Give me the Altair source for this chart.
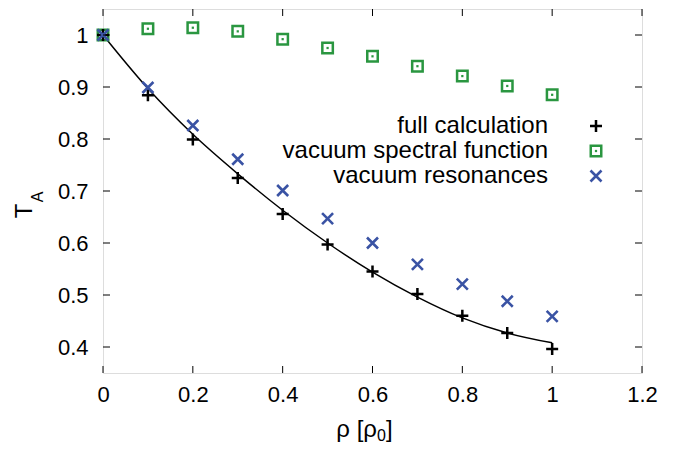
import altair as alt
import pandas as pd

# ---- data ----
rho = [0.0, 0.1, 0.2, 0.3, 0.4, 0.5, 0.6, 0.7, 0.8, 0.9, 1.0]
full_calc = [1.000, 0.884, 0.799, 0.725, 0.656, 0.597, 0.545, 0.502, 0.460, 0.427, 0.396]
full_line = [1.000, 0.897, 0.809, 0.733, 0.663, 0.600, 0.544, 0.496, 0.456, 0.427, 0.408]
vac_spec = [1.000, 1.012, 1.014, 1.007, 0.992, 0.975, 0.959, 0.940, 0.921, 0.902, 0.885]
vac_res = [1.000, 0.899, 0.826, 0.761, 0.701, 0.647, 0.600, 0.559, 0.521, 0.488, 0.459]
x_ticks = [0, 0.2, 0.4, 0.6, 0.8, 1.0, 1.2]
y_ticks = [0.4, 0.5, 0.6, 0.7, 0.8, 0.9, 1.0]
legend_labels = ["full calculation", "vacuum spectral function", "vacuum resonances"]

W, H = 539, 364
FONT = "Liberation Sans"
BLACK = "#000000"
GREEN = "#2a9640"
BLUE = "#3a53a4"
PLUS = "M-1,0H1M0,-1V1"
CROSS = "M-1,-1L1,1M-1,1L1,-1"

xs = alt.Scale(domain=[0, 1.2], nice=False, zero=False)
ys = alt.Scale(domain=[0.35, 1.05], nice=False, zero=False)

x_axis = alt.Axis(values=x_ticks, format="~g", title=None, domain=False, ticks=False,
                  tickSize=0, grid=False, labelFont=FONT, labelFontSize=22,
                  labelColor="#000", labelPadding=11, labelFlush=False)
y_axis = alt.Axis(values=y_ticks, format="~g", title=None, domain=False, ticks=False,
                  tickSize=0, grid=False, labelFont=FONT, labelFontSize=22,
                  labelColor="#000", labelPadding=15, labelFlush=False)

X = alt.X("rho:Q", scale=xs, axis=x_axis)
Y = alt.Y("T:Q", scale=ys, axis=y_axis)

df_line = pd.DataFrame({"rho": rho, "T": full_line})
df_full = pd.DataFrame({"rho": rho, "T": full_calc})
df_spec = pd.DataFrame({"rho": rho, "T": vac_spec})
df_res = pd.DataFrame({"rho": rho, "T": vac_res})
df_xt = pd.DataFrame({"rho": x_ticks})
df_yt = pd.DataFrame({"T": y_ticks})

line = alt.Chart(df_line).mark_line(color=BLACK, strokeWidth=1.5,
                                    interpolate="monotone").encode(x=X, y=Y)
spec = alt.Chart(df_spec).mark_point(shape="square", filled=False, color=GREEN,
                                     strokeWidth=2.5, size=110, opacity=1).encode(x=X, y=Y)
spec_dot = alt.Chart(df_spec).mark_square(color=GREEN, size=5, opacity=1).encode(x=X, y=Y)
full = alt.Chart(df_full).mark_point(shape=PLUS, filled=False, color=BLACK,
                                     strokeWidth=2.5, size=144, opacity=1).encode(x=X, y=Y)
res = alt.Chart(df_res).mark_point(shape=CROSS, filled=False, color=BLUE,
                                   strokeWidth=2.6, size=121, opacity=1).encode(x=X, y=Y)

# inward ticks on all four sides
TL = 7
xt_bot = alt.Chart(df_xt).mark_rule(color=BLACK, strokeWidth=1).encode(
    x=X, y=alt.value(H), y2=alt.value(H - TL))
xt_top = alt.Chart(df_xt).mark_rule(color=BLACK, strokeWidth=1).encode(
    x=X, y=alt.value(0), y2=alt.value(TL))
yt_left = alt.Chart(df_yt).mark_rule(color=BLACK, strokeWidth=1).encode(
    y=Y, x=alt.value(0), x2=alt.value(TL))
yt_right = alt.Chart(df_yt).mark_rule(color=BLACK, strokeWidth=1).encode(
    y=Y, x=alt.value(W), x2=alt.value(W - TL))

# legend (labels right-aligned, symbols to their right)
LX, SX = 445, 493
LY = [117, 142, 167]
legend_layers = []
for lab, ly in zip(legend_labels, LY):
    legend_layers.append(
        alt.Chart(pd.DataFrame({"t": [lab]})).mark_text(
            align="right", baseline="middle", font=FONT, fontSize=24, color=BLACK
        ).encode(text="t:N", x=alt.value(LX), y=alt.value(ly))
    )
one = pd.DataFrame({"k": [0]})
legend_layers += [
    alt.Chart(one).mark_point(shape=PLUS, filled=False, color=BLACK, strokeWidth=2.5,
                              size=144, opacity=1).encode(x=alt.value(SX), y=alt.value(LY[0])),
    alt.Chart(one).mark_point(shape="square", filled=False, color=GREEN, strokeWidth=2.5,
                              size=110, opacity=1).encode(x=alt.value(SX), y=alt.value(LY[1])),
    alt.Chart(one).mark_square(color=GREEN, size=5, opacity=1).encode(
        x=alt.value(SX), y=alt.value(LY[1])),
    alt.Chart(one).mark_point(shape=CROSS, filled=False, color=BLUE, strokeWidth=2.6,
                              size=121, opacity=1).encode(x=alt.value(SX), y=alt.value(LY[2])),
]

# axis titles with subscripts
def txt(s, x, y, size, align="center", baseline="alphabetic", angle=0):
    return alt.Chart(pd.DataFrame({"t": [s]})).mark_text(
        align=align, baseline=baseline, font=FONT, fontSize=size, color=BLACK, angle=angle
    ).encode(text="t:N", x=alt.value(x), y=alt.value(y))

titles = [
    txt("T", -78, 202, 24, align="center", baseline="middle", angle=270),
    txt("A", -65, 188, 16, align="center", baseline="middle", angle=270),
    txt("ρ [ρ", 274, 428, 24, align="right"),
    txt("0", 274, 432, 16, align="left"),
    txt("]", 283, 428, 24, align="left"),
]

chart = alt.layer(
    line, spec, spec_dot, full, res, xt_bot, xt_top, yt_left, yt_right,
    *legend_layers, *titles
).properties(
    width=W, height=H, autosize="none",
    padding={"left": 95, "top": 1, "right": 28, "bottom": 70},
).configure_view(stroke=BLACK, strokeWidth=1.5).configure(background="white")

chart.save("out.html", embed_options={"renderer": "svg", "actions": False})
